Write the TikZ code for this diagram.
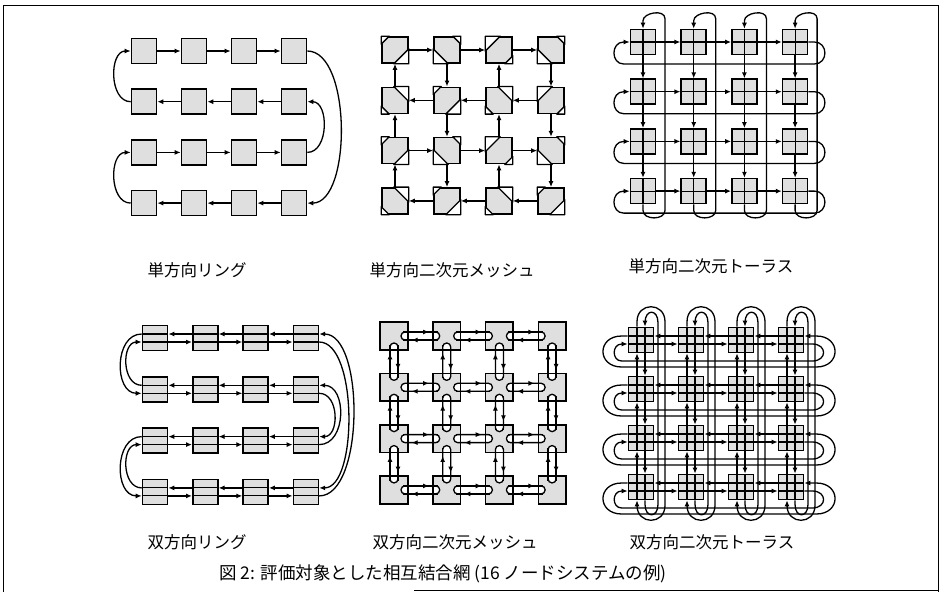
\documentclass[tikz,border=0pt]{standalone}
\usepackage{fontspec}
\newfontfamily\cjk{Noto Sans CJK JP}
\usetikzlibrary{arrows.meta, calc, decorations.markings}

% corner cuts of the mesh routers
\newcommand{\cutTL}[2]{\filldraw[cut] (#1.north west) -- ($(#1.north west)+(0,#2)$) -- ($(#1.north west)+(#2,0)$) -- cycle;}
\newcommand{\cutTR}[2]{\filldraw[cut] (#1.north east) -- ($(#1.north east)+(0,#2)$) -- ($(#1.north east)+(-#2,0)$) -- cycle;}
\newcommand{\cutBL}[2]{\filldraw[cut] (#1.south west) -- ($(#1.south west)+(0,-#2)$) -- ($(#1.south west)+(#2,0)$) -- cycle;}
\newcommand{\cutBR}[2]{\filldraw[cut] (#1.south east) -- ($(#1.south east)+(0,-#2)$) -- ($(#1.south east)+(-#2,0)$) -- cycle;}

\begin{document}
\begin{tikzpicture}[
        x=1pt, y=-1pt,
        pnode/.style={
            rectangle,
            draw=black,
            line width=1.6pt,
            fill=gray!25,
            minimum size=25pt,
            inner sep=0pt
        },
        mnode/.style={pnode, minimum size=26pt},
        link/.style={
            line width=1.3pt,
            -{Latex[length=6pt, width=5pt]}
        },
        wire/.style={line width=1.1pt},
        cut/.style={fill=white, draw=black, line width=1.3pt, line join=round},
        chan/.style={fill=white, draw=black, line width=1.3pt, rounded corners=3.9pt},
        chanarrow/.style={
            line width=1.3pt,
            postaction={decorate},
            decoration={markings, mark=at position 0.75 with {\arrow{Latex[length=6pt, width=5pt]}}}
        },
        rim/.style={draw=black, line width=1.6pt},
        ntitle/.style={font=\cjk\fontsize{16.5}{18}\selectfont}
        ]

        \useasboundingbox (0,0) rectangle (941,592);
        \draw[line width=0.8pt] (3,592) -- (3,5) -- (938,5) -- (938,592);
        \draw[line width=0.8pt] (414,590) -- (938,590);

        % ---- unidirectional ring
        \foreach \row in {1,...,4}
            \foreach \col in {1,...,4}
                \node[pnode] (a\row\col) at ({144+50*(\col-1)}, {51+50.7*(\row-1)}) {};
        \foreach \row in {1,3}
            \foreach \col/\nxt in {1/2,2/3,3/4}
                \draw[link] (a\row\col) -- (a\row\nxt);
        \foreach \row in {2,4}
            \foreach \col/\nxt in {2/1,3/2,4/3}
                \draw[link] (a\row\col) -- (a\row\nxt);
        \draw[link] (a14.east) to[out=0, in=0, looseness=0.75] (a44.east);
        \draw[link] (a41.west) to[out=180, in=180, looseness=1.1] (a31.west);
        \draw[link] (a34.east) to[out=0, in=0, looseness=1.1] (a24.east);
        \draw[link] (a21.west) to[out=180, in=180, looseness=1.1] (a11.west);

        % ---- unidirectional mesh
        \foreach \row in {1,...,4}
            \foreach \col in {1,...,4}
                \node[mnode] (b\row\col) at ({395+52*(\col-1)}, {50+50.3*(\row-1)}) {};
        \foreach \row/\col/\big/\small in {1/1/BR/TL, 1/2/BL/TR, 1/3/TL/BR, 1/4/BL/TR,
                2/1/TR/BL, 2/2/BR/TL, 2/3/TR/BL, 2/4/TL/BR,
                3/1/BR/TL, 3/2/BL/TR, 3/3/TL/BR, 3/4/BL/TR,
                4/1/TR/BL, 4/2/BR/TL, 4/3/TR/BL, 4/4/BR/TL}
            {\csname cut\big\endcsname{b\row\col}{15}
             \csname cut\small\endcsname{b\row\col}{8}}
        \foreach \row in {1,3}
            \foreach \col/\nxt in {1/2,2/3,3/4}
                \draw[link] (b\row\col) -- (b\row\nxt);
        \foreach \row in {2,4}
            \foreach \col/\nxt in {2/1,3/2,4/3}
                \draw[link] (b\row\col) -- (b\row\nxt);
        \foreach \col in {1,3}
            \foreach \row/\nxt in {2/1,3/2,4/3}
                \draw[link] (b\row\col) -- (b\nxt\col);
        \foreach \col in {2,4}
            \foreach \row/\nxt in {1/2,2/3,3/4}
                \draw[link] (b\row\col) -- (b\nxt\col);

        % ---- unidirectional torus
        \foreach \row in {1,...,4}
            \foreach \col in {1,...,4} {
                \node[pnode] (t\row\col) at ({643+50.7*(\col-1)}, {42+49.7*(\row-1)}) {};
                \draw[wire] (t\row\col.west) -- (t\row\col.east) (t\row\col.north) -- (t\row\col.south);
            }
        \foreach \row in {1,...,4} {
            \foreach \col/\nxt in {1/2,2/3,3/4}
                \draw[link] (t\row\col) -- (t\row\nxt);
            \draw[link] (t\row4.east) -- ++(6,0) .. controls +(14,0) and +(14,0) .. ++(0,22)
                -- ($(t\row1.west)+(-6,22)$) .. controls +(-13,0) and +(-13,0) .. ($(t\row1.west)+(-6,0)$) -- (t\row1.west);
        }
        \foreach \col in {1,...,4} {
            \foreach \row/\nxt in {1/2,2/3,3/4}
                \draw[link] (t\row\col) -- (t\nxt\col);
            \draw[link] (t4\col.south) -- ++(0,6) .. controls +(0,10) and +(0,10) .. ++(22,0)
                -- ($(t1\col.north)+(22,-10)$) .. controls +(0,-10) and +(0,-8) .. ($(t1\col.north)+(0,-8)$) -- (t1\col.north);
        }

        % ---- bidirectional ring
        \foreach \row in {1,...,4}
            \foreach \col in {1,...,4} {
                \node[pnode] (d\row\col) at ({155+50.3*(\col-1)}, {338+51.3*(\row-1)}) {};
                \draw[wire] ($(d\row\col.west)+(0,-4)$) -- ($(d\row\col.east)+(0,-4)$)
                    ($(d\row\col.west)+(0,4)$) -- ($(d\row\col.east)+(0,4)$);
            }
        \foreach \row in {1,...,4}
            \foreach \col/\nxt in {1/2,2/3,3/4} {
                \draw[link] ($(d\row\nxt.west)+(0,-4)$) -- ($(d\row\col.east)+(0,-4)$);
                \draw[link] ($(d\row\col.east)+(0,4)$) -- ($(d\row\nxt.west)+(0,4)$);
            }
        \draw[link] ($(d11.west)+(0,-4)$) to[out=180, in=180, looseness=1.2] ($(d21.west)+(0,4)$);
        \draw[link] ($(d21.west)+(0,-4)$) to[out=180, in=180, looseness=1.2] ($(d11.west)+(0,4)$);
        \draw[link] ($(d34.east)+(0,4)$) to[out=0, in=0, looseness=1.2] ($(d24.east)+(0,-4)$);
        \draw[link] ($(d24.east)+(0,4)$) to[out=0, in=0, looseness=1.2] ($(d34.east)+(0,-4)$);
        \draw[link] ($(d31.west)+(0,-4)$) to[out=180, in=180, looseness=1.2] ($(d41.west)+(0,4)$);
        \draw[link] ($(d41.west)+(0,-4)$) to[out=180, in=180, looseness=1.2] ($(d31.west)+(0,4)$);
        \draw[link] ($(d44.east)+(0,4)$) to[out=0, in=0, looseness=0.72] ($(d14.east)+(0,-4)$);
        \draw[link] ($(d14.east)+(0,4)$) to[out=0, in=0, looseness=0.68] ($(d44.east)+(0,-4)$);

        % ---- bidirectional mesh
        \foreach \row in {1,...,4}
            \foreach \col in {1,...,4}
                \node[mnode, draw=none] (e\row\col) at ({394+52.7*(\col-1)}, {336+51.3*(\row-1)}) {};
        \foreach \row in {1,...,4}
            \foreach \col/\nxt in {1/2,2/3,3/4} {
                \filldraw[chan] ($(e\row\col.center)+(7,-4)$) rectangle ($(e\row\nxt.center)+(-7,4)$);
                \draw[chanarrow] ($(e\row\col.center)+(9,-4)$) -- ($(e\row\nxt.center)+(-9,-4)$);
                \draw[chanarrow] ($(e\row\nxt.center)+(-9,4)$) -- ($(e\row\col.center)+(9,4)$);
            }
        \foreach \col in {1,...,4}
            \foreach \row/\nxt in {1/2,2/3,3/4} {
                \filldraw[chan] ($(e\row\col.center)+(-4,7)$) rectangle ($(e\nxt\col.center)+(4,-7)$);
                \draw[chanarrow] ($(e\nxt\col.center)+(-4,-9)$) -- ($(e\row\col.center)+(-4,9)$);
                \draw[chanarrow] ($(e\row\col.center)+(4,9)$) -- ($(e\nxt\col.center)+(4,-9)$);
            }
        \foreach \row in {1,...,4}
            \foreach \col in {1,...,4}
                \draw[rim] (e\row\col.north west) rectangle (e\row\col.south east);

        % ---- bidirectional torus
        \foreach \row in {1,...,4}
            \foreach \col in {1,...,4} {
                \node[pnode] (f\row\col) at ({641+50*(\col-1)}, {340+49*(\row-1)}) {};
                \draw[wire] ($(f\row\col.west)+(0,-4)$) -- ($(f\row\col.east)+(0,-4)$)
                    ($(f\row\col.west)+(0,4)$) -- ($(f\row\col.east)+(0,4)$)
                    ($(f\row\col.north)+(-4,0)$) -- ($(f\row\col.south)+(-4,0)$)
                    ($(f\row\col.north)+(4,0)$) -- ($(f\row\col.south)+(4,0)$);
            }
        \foreach \row in {1,...,4} {
            \foreach \col/\nxt in {1/2,2/3,3/4} {
                \draw[link] ($(f\row\nxt.west)+(0,-4)$) -- ($(f\row\col.east)+(0,-4)$);
                \draw[link] ($(f\row\col.east)+(0,4)$) -- ($(f\row\nxt.west)+(0,4)$);
            }
            \draw[link] ($(f\row1.west)+(0,-4)$) -- ++(-6,0) .. controls +(-25,0) and +(-25,0) .. ++(0,31)
                -- ($(f\row4.east)+(12,27)$) .. controls +(25,0) and +(25,0) .. ($(f\row4.east)+(12,-4)$) -- ($(f\row4.east)+(0,-4)$);
            \draw[link] ($(f\row4.east)+(0,4)$) -- ++(8,0) .. controls +(15,0) and +(15,0) .. ++(0,17)
                -- ($(f\row1.west)+(-6,21)$) .. controls +(-10,0) and +(-10,0) .. ($(f\row1.west)+(-6,4)$) -- ($(f\row1.west)+(0,4)$);
        }
        \foreach \col in {1,...,4} {
            \foreach \row/\nxt in {1/2,2/3,3/4} {
                \draw[link] ($(f\nxt\col.north)+(-4,0)$) -- ($(f\row\col.south)+(-4,0)$);
                \draw[link] ($(f\row\col.south)+(4,0)$) -- ($(f\nxt\col.north)+(4,0)$);
            }
            \draw[link] ($(f1\col.north)+(-4,0)$) -- ++(0,-5) .. controls +(0,-20) and +(0,-20) .. ($(f1\col.north)+(24,-5)$)
                -- ($(f4\col.south)+(24,5)$) .. controls +(0,20) and +(0,20) .. ($(f4\col.south)+(-4,5)$) -- ($(f4\col.south)+(-4,0)$);
            \draw[link] ($(f4\col.south)+(4,0)$) -- ++(0,4) .. controls +(0,14) and +(0,14) .. ($(f4\col.south)+(17,4)$)
                -- ($(f1\col.north)+(17,-4)$) .. controls +(0,-14) and +(0,-14) .. ($(f1\col.north)+(4,-4)$) -- ($(f1\col.north)+(4,0)$);
        }

        % ---- titles
        \node[ntitle] (ta) at (197,270) {単方向リング};
        \node[ntitle] (tb) at (452,270) {単方向二次元メッシュ};
        \node[ntitle] (tc) at (711,266) {単方向二次元トーラス};
        \node[ntitle] (td) at (197,542) {双方向リング};
        \node[ntitle] (te) at (455,542) {双方向二次元メッシュ};
        \node[ntitle] (tf) at (712,542) {双方向二次元トーラス};
        \node[font=\cjk\fontsize{17.5}{20}\selectfont] (cap) at (443,574) {図 2: 評価対象とした相互結合網 (16 ノードシステムの例)};

    \end{tikzpicture}
\end{document}
